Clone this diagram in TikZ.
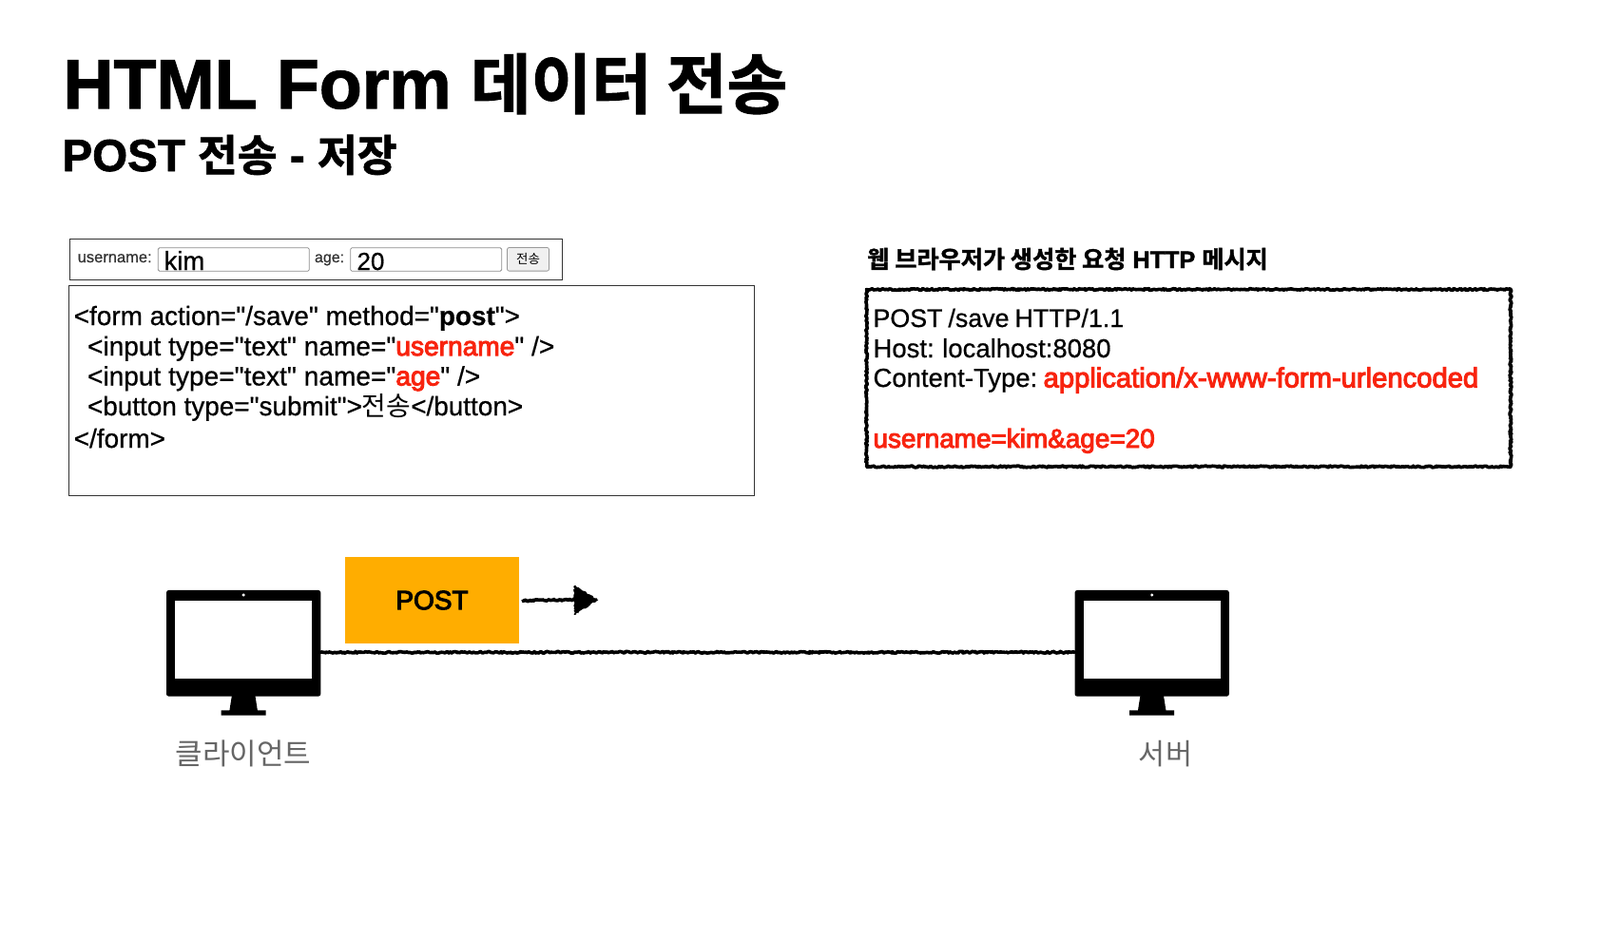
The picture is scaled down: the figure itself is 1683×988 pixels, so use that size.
\documentclass[tikz,border=0pt]{standalone}
\usepackage{fontspec}
\usetikzlibrary{decorations.pathmorphing,calc}
\setmainfont{Liberation Sans}[Ligatures=TeXOff,FakeBold=0.6]
\newfontfamily\kr{Noto Sans CJK KR}
\newfontfamily\med[FakeBold=3.5]{Liberation Sans}
\newfontfamily\hb[FakeBold=1.5]{Liberation Sans Bold}
\newfontfamily\krb[FakeBold=1.5]{Noto Sans CJK KR Bold}
\definecolor{redtxt}{HTML}{F8240F}
\definecolor{orangebox}{HTML}{FFAD00}
\definecolor{graytxt}{HTML}{666666}
\newcommand{\fs}[1]{\fontsize{#1}{#1}\selectfont}
\newcommand{\rd}[1]{\textcolor{redtxt}{\med #1}}
\newcommand{\K}[1]{{\kr #1}}
\newcommand{\tight}{\spaceskip=6pt\relax}
\newcommand{\monitorAt}[2]{%
  \node[monitorbody] (#1) at (#2,676.8) {};
  \node[monitorscreen] (#1screen) at (#2,672.7) {};
  \node[monitorcam] (#1cam) at (#2,626) {};
  \fill ({#2-12.3},732) -- ({#2+12.3},732) -- ({#2+14.7},747.3) -- ({#2+23.5},747.3)
     -- ({#2+23.5},752.7) -- ({#2-23.5},752.7) -- ({#2-23.5},747.3) -- ({#2-14.7},747.3) -- cycle;
}
\tikzset{
  txt/.style={anchor=base west,inner sep=0pt,outer sep=0pt},
  codeline/.style={txt,font=\fs{27.9}},
  inputline/.style={txt,font=\fs{28.1}},
  msgline/.style={txt,font=\fs{27.5}},
  monitorbody/.style={fill=black,rounded corners=2.5pt,minimum width=162.3pt,minimum height=111.7pt,inner sep=0pt,outer sep=0pt},
  monitorscreen/.style={fill=white,minimum width=143.7pt,minimum height=82pt,inner sep=0pt,outer sep=0pt},
  monitorcam/.style={fill=white,circle,minimum size=3.4pt,inner sep=0pt,outer sep=0pt},
  thinbox/.style={draw=black!80,line width=1pt,inner sep=0pt,outer sep=0pt},
  field/.style={draw=black!45,line width=0.8pt,rounded corners=1.5pt,fill=white,inner sep=0pt,outer sep=0pt,minimum width=159pt,minimum height=24.6pt},
  formbtn/.style={draw=black!40,fill=black!6,line width=0.8pt,rounded corners=2pt,inner sep=0pt,outer sep=0pt,minimum width=44pt,minimum height=24.6pt,font=\kr\fs{13.5}},
  rough/.style={decorate,decoration={random steps,segment length=1.3pt,amplitude=0.9pt}},
  roughline/.style={rough,line width=3.6pt,black,line cap=round,line join=round},
}
\begin{document}
\begin{tikzpicture}[x=1pt,y=-1pt]
\useasboundingbox (0,0) rectangle (1683,988);
\fill[white] (0,0) rectangle (1683,988);

% titles
\node[txt,font=\hb\fs{73.5}] (title) at (66.5,114) {HTML Form {\krb\fs{69}데이터 전송}};
\node[txt,font=\hb\fs{47.5}] (subtitle) at (65.5,180) {POST {\krb\fs{45.5}전송} - {\krb\fs{45.5}저장}};

% browser form
\node[thinbox,minimum width=518.4pt,minimum height=43pt] (formbox) at (332.2,273.2) {};
\node[txt,font=\fs{16.5},text=black!80] (ulabel) at (81.7,276) {username:};
\node[field] (ufield) at (245.8,273) {};
\node[txt,font=\fs{27.5}] (uval) at (172.5,284) {kim};
\node[txt,font=\fs{16},text=black!80] (alabel) at (331,276) {age:};
\node[field] (afield) at (448.2,273) {};
\node[txt,font=\fs{26}] (aval) at (375.5,284) {20};
\node[formbtn] (sendbtn) at (555.5,272.8) {전송};

% html code
\node[thinbox,minimum width=721.5pt,minimum height=220.6pt] (codebox) at (432.75,411) {};
\node[codeline] (c1) at (77.8,342) {<form action="/save" method="{\bfseries post}">};
\node[inputline] (c2) at (92,374) {<input type="text" name="\rd{username}" />};
\node[inputline] (c3) at (92,405.5) {<input type="text" name="\rd{age}" />};
\node[codeline] (c4) at (92,437) {<button type="submit">\K{전송}</button>};
\node[codeline] (c5) at (77.8,471) {</form>};

% http message
\node[txt,font=\hb\fs{25.2}] (msgtitle) at (912.3,282) {{\krb 웹 브라우저가 생성한 요청} HTTP {\krb 메시지}};
\draw[roughline] (911.5,304.5) rectangle (1589,491);
\node[msgline,font=\fs{26.8}] (m1) at (918.5,344) {\tight POST /save HTTP/1.1};
\node[msgline] (m2) at (918.5,376) {\tight Host: localhost:8080};
\node[msgline] (m3) at (918.5,407) {Content-Type:};
\node[msgline,font=\fs{29.2}] (m3b) at (1097.6,407.5) {\rd{application/x-www-form-urlencoded}};
\node[codeline] (m4) at (918.5,471) {\rd{username=kim\&age=20}};

% monitors
\monitorAt{client}{256.15}
\monitorAt{server}{1211.7}
\node[txt,anchor=base,font=\kr\fs{31},text=graytxt] (clientlabel) at (256,804) {클라이언트};
\node[txt,anchor=base,font=\kr\fs{30.5},text=graytxt] (serverlabel) at (1226,804) {서버};

% post box and connectors
\node[fill=orangebox,minimum width=183pt,minimum height=91pt,inner sep=0pt,outer sep=0pt,font=\fs{28}\med] (postbox) at (454.5,631.5) {POST};
\coordinate (arrowstem) at (606,631);
\coordinate (arrowtip) at (629.3,631);
\draw[roughline] ([xshift=4pt,yshift=-0.5pt]postbox.east) -- (arrowstem);
\fill[rough] (604,616) -- (arrowtip) -- (604,647) -- cycle;
\draw[roughline] ([yshift=-9.5pt]client.east) -- ([yshift=-9.5pt]server.west);
\end{tikzpicture}
\end{document}
